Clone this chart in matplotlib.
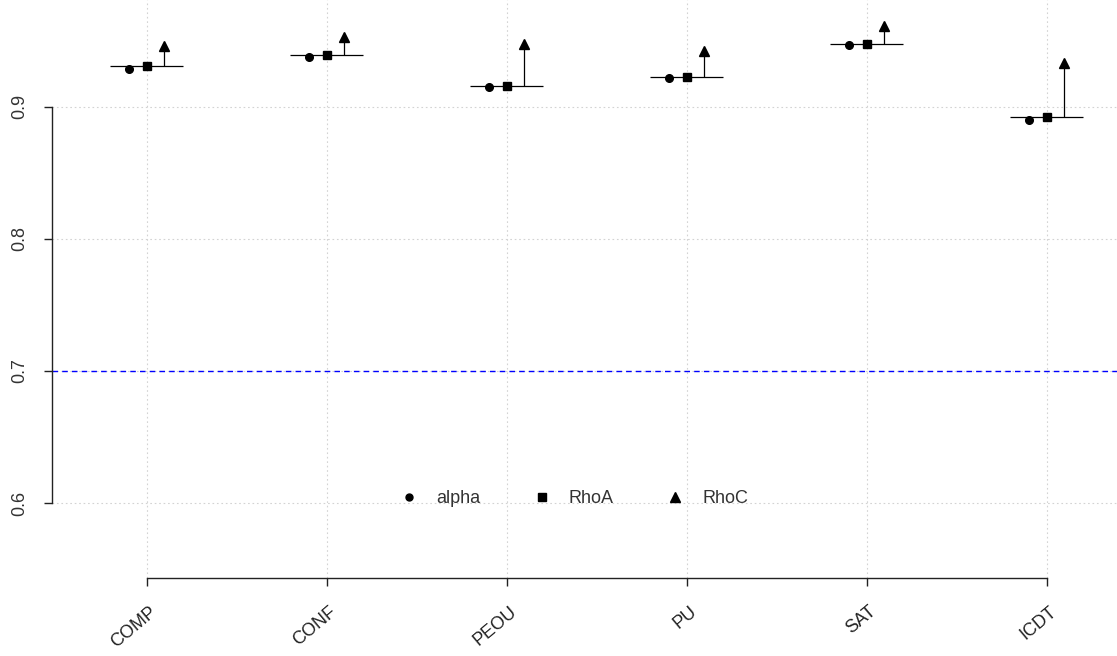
import numpy as np
import matplotlib.pyplot as plt
from matplotlib.lines import Line2D
from matplotlib.transforms import ScaledTranslation, blended_transform_factory

plt.rcParams['font.family'] = ['Liberation Sans', 'DejaVu Sans']

# reliability values per construct
constructs = ['COMP', 'CONF', 'PEOU', 'PU', 'SAT', 'ICDT']
alpha = [0.929, 0.938, 0.915, 0.922, 0.947, 0.890]
rho_a = [0.931, 0.939, 0.916, 0.923, 0.948, 0.892]
rho_c = [0.946, 0.953, 0.948, 0.942, 0.961, 0.933]
threshold = 0.7
yticks = [0.6, 0.7, 0.8, 0.9]

x = np.arange(1, len(constructs) + 1)

fig = plt.figure(figsize=(11.17, 6.56), dpi=100)
ax = fig.add_axes([0.0466, 0.119, 0.9534, 0.881])
ax.set_xlim(0.472, 6.389)
ax.set_ylim(0.5432, 0.981)

# grid
for v in yticks:
    ax.axhline(v, color='#d3d3d3', lw=0.8, ls=(0, (1.5, 2.5)), zorder=0)
for xi in x:
    ax.axvline(xi, color='#d3d3d3', lw=0.8, ls=(0, (1.5, 2.5)), zorder=0)

# threshold line
ax.axhline(threshold, color='#0000ff', lw=1.0, ls=(0, (4, 3)), zorder=1)

# horizontal segment and arrow stem for each construct
ax.hlines(rho_a, x - 0.205, x + 0.2, color='black', lw=0.9, zorder=2)
ax.vlines(x + 0.095, rho_a, rho_c, color='black', lw=0.9, zorder=2)

ax.plot(x - 0.1, alpha, 'o', color='black', ms=5.5, ls='none', zorder=3)
ax.plot(x, rho_a, 's', color='black', ms=6, ls='none', zorder=3)
ax.plot(x + 0.095, rho_c, '^', color='black', ms=7, ls='none', zorder=3)

# axes styling (R-like)
for s in ['top', 'right']:
    ax.spines[s].set_visible(False)
ax.spines['left'].set_bounds(0.6, 0.9)
ax.spines['bottom'].set_bounds(1, 6)
for s in ['left', 'bottom']:
    ax.spines[s].set_color('#222222')
    ax.spines[s].set_linewidth(1.0)

ax.set_yticks(yticks)
ax.set_yticklabels([f'{v:.1f}' for v in yticks], rotation=90, va='center',
                   fontsize=13, color='#333333')
ax.tick_params(axis='y', length=6, width=1.0, color='#222222', pad=11)

ax.set_xticks(x)
ax.set_xticklabels(constructs, rotation=40, ha='right', va='top',
                   rotation_mode='anchor', fontsize=13, color='#222222')
ax.tick_params(axis='x', length=6, width=1.0, color='#222222', pad=12)
offset = ScaledTranslation(2 / 100, 0, fig.dpi_scale_trans)
for lbl in ax.get_xticklabels():
    lbl.set_transform(lbl.get_transform() + offset)

handles = [
    Line2D([], [], marker='o', color='black', ls='none', ms=5),
    Line2D([], [], marker='s', color='black', ls='none', ms=6),
    Line2D([], [], marker='^', color='black', ls='none', ms=6.5),
]
leg_tr = blended_transform_factory(fig.transFigure, ax.transData)
ax.legend(handles, ['alpha', 'RhoA', 'RhoC'], ncol=3, frameon=False,
          loc='center left', bbox_to_anchor=(402 / 1117, 0.6035),
          bbox_transform=leg_tr, fontsize=13,
          handlelength=0.8, handletextpad=1.1, columnspacing=3.0,
          borderpad=0, borderaxespad=0, labelcolor='#333333')

fig.savefig('out.png', dpi=100)
